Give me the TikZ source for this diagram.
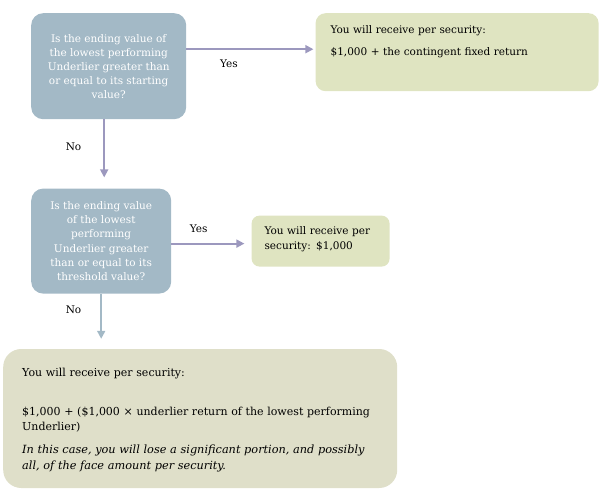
\documentclass[tikz,border=0pt]{standalone}
\usepackage{fontspec}
\setmainfont{DejaVu Serif}
\usetikzlibrary{arrows.meta,positioning}

\definecolor{qblue}{HTML}{A3B9C6}
\definecolor{agreen}{HTML}{DFE4C1}
\definecolor{agrey}{HTML}{DFDFC9}
\definecolor{apurple}{HTML}{9C98BE}

\begin{document}
\begin{tikzpicture}[
        font=\fontsize{10.5}{14}\selectfont,
        question/.style={fill=qblue, text=white, rounded corners=12pt, align=center, inner sep=0pt},
        answer/.style={fill=agreen, rounded corners=10pt, align=left, inner ysep=0pt},
        arrow/.style={draw=apurple, line width=1.8pt, -{Triangle[length=8pt,width=8pt]}},
        edgelabel/.style={inner sep=0pt, text=black}
        ]
        \useasboundingbox (0,0) rectangle (603pt,-495pt);

        \node[question, minimum width=155pt, minimum height=106pt, anchor=north west] (q1) at (31pt,-13pt)
            {Is the ending value of\\the lowest performing\\Underlier greater than\\or equal to its starting\\value?};
        \node[answer, inner xsep=15pt, text width=253pt, text height=20pt, text depth=58pt,
              right=129pt of q1.north east, anchor=north west] (r1)
            {You will receive per security:\\[8pt]\$1,000 + the contingent fixed return};
        \node[question, font=\fontsize{10.5}{14.2}\selectfont, minimum width=140pt, minimum height=105pt,
              below=69pt of q1.south west, anchor=north west] (q2)
            {Is the ending value\\of the lowest\\performing\\Underlier greater\\than or equal to its\\threshold value?};
        \node[answer, rounded corners=8pt, inner xsep=13pt, text width=112pt, text height=19pt, text depth=32pt,
              right=80pt of q2] (r2)
            {You will receive per\\[1pt]security: \$1,000};
        \node[answer, fill=agrey, font=\fontsize{11}{14}\selectfont, rounded corners=18pt, inner xsep=19pt,
              text width=356pt, text height=27pt, text depth=112pt,
              below=55pt of q2.south west, anchor=north west, xshift=-28pt] (r3)
            {You will receive per security:\\[25pt]
             \$1,000 + (\$1,000 × underlier return of the lowest performing\\[1pt]
             Underlier)\\[9pt]
             {\fontsize{11.3}{14}\selectfont\itshape In this case, you will lose a significant portion, and possibly}\\[2pt]
             {\fontsize{11.3}{14}\selectfont\itshape all, of the face amount per security.}};

        \draw[arrow, shorten >=2pt] ([yshift=17pt]q1.east) -- ([yshift=17pt]q1.east -| r1.west)
            node[edgelabel, pos=0.33, below=10pt] {Yes};
        \draw[arrow, shorten >=11pt] ([xshift=-4.5pt]q1.south) -- ([xshift=-4.5pt]q1.south |- q2.north)
            node[edgelabel, pos=0.4, left=22pt] {No};
        \draw[arrow, shorten >=7pt] ([yshift=-2.5pt]q2.east) -- ([yshift=-2.5pt]q2.east -| r2.west)
            node[edgelabel, pos=0.34, above=10pt] {Yes};
        \draw[arrow, draw=qblue, shorten >=10pt] (q2.south) -- (q2.south |- r3.north)
            node[edgelabel, pos=0.29, left=19pt] {No};
    \end{tikzpicture}
\end{document}
